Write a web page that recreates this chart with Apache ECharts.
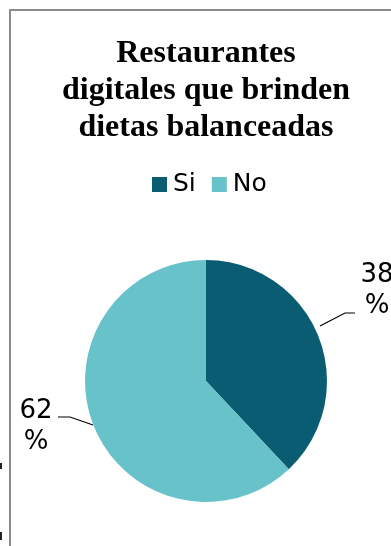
<!DOCTYPE html>
<html>
<head>
<meta charset="utf-8">
<script src="https://cdn.jsdelivr.net/npm/echarts@6/dist/echarts.min.js"></script>
<style>
html,body{margin:0;padding:0;background:#fff;}
#c{width:391px;height:546px;}
</style>
</head>
<body>
<div id="c"></div>
<script>
const titleText = "Restaurantes\ndigitales que brinden\ndietas balanceadas";
const categories = ["Si", "No"];
const values = [38, 62];
const colors = ["#0a5c72", "#67c3c9"];

const labelPos = [
  {x: 377, y: 260, line: [[320, 326], [345, 313], [355, 313]]},
  {x: 36, y: 396, line: [[93, 425], [70, 417], [58, 417]]}
];

const chart = echarts.init(document.getElementById('c'), null, {renderer: 'canvas'});
chart.setOption({
  animation: false,
  title: {
    text: titleText,
    left: 206,
    top: 35,
    textAlign: 'center',
    padding: 0,
    textStyle: {
      fontFamily: 'Liberation Serif',
      fontWeight: 'bold',
      fontSize: 32,
      lineHeight: 37,
      color: '#000'
    }
  },
  legend: {
    data: categories,
    left: 152,
    top: 172,
    padding: 0,
    icon: 'rect',
    itemWidth: 15,
    itemHeight: 15,
    itemGap: 16,
    textStyle: {fontFamily: 'DejaVu Sans', fontSize: 25, color: '#000', padding: [0, 0, 0, 1]}
  },
  graphic: [
    {type: 'polyline', shape: {points: [[10, 546], [10, 10], [391, 10]]}, style: {stroke: '#8c8c8c', lineWidth: 2, fill: null}, silent: true},
    {type: 'rect', shape: {x: 0, y: 463, width: 2, height: 6}, style: {fill: '#222'}, silent: true},
    {type: 'rect', shape: {x: 0, y: 532, width: 2, height: 8}, style: {fill: '#222'}, silent: true}
  ],
  series: [{
    type: 'pie',
    center: [206, 381],
    radius: 121,
    startAngle: 90,
    clockwise: true,
    data: categories.map((c, i) => ({name: c, value: values[i], itemStyle: {color: colors[i]}})),
    label: {
      show: true,
      formatter: '{c}\n%',
      fontFamily: 'DejaVu Sans',
      fontSize: 26,
      lineHeight: 31,
      color: '#000',
      align: 'center',
      overflow: 'none',
      edgeDistance: 0
    },
    labelLine: {show: true, lineStyle: {color: '#000', width: 1.2}},
    labelLayout: function (p) {
      const lp = labelPos[p.dataIndex];
      return {x: lp.x, y: lp.y, align: 'center', verticalAlign: 'top', labelLinePoints: lp.line};
    }
  }]
});
</script>
</body>
</html>
